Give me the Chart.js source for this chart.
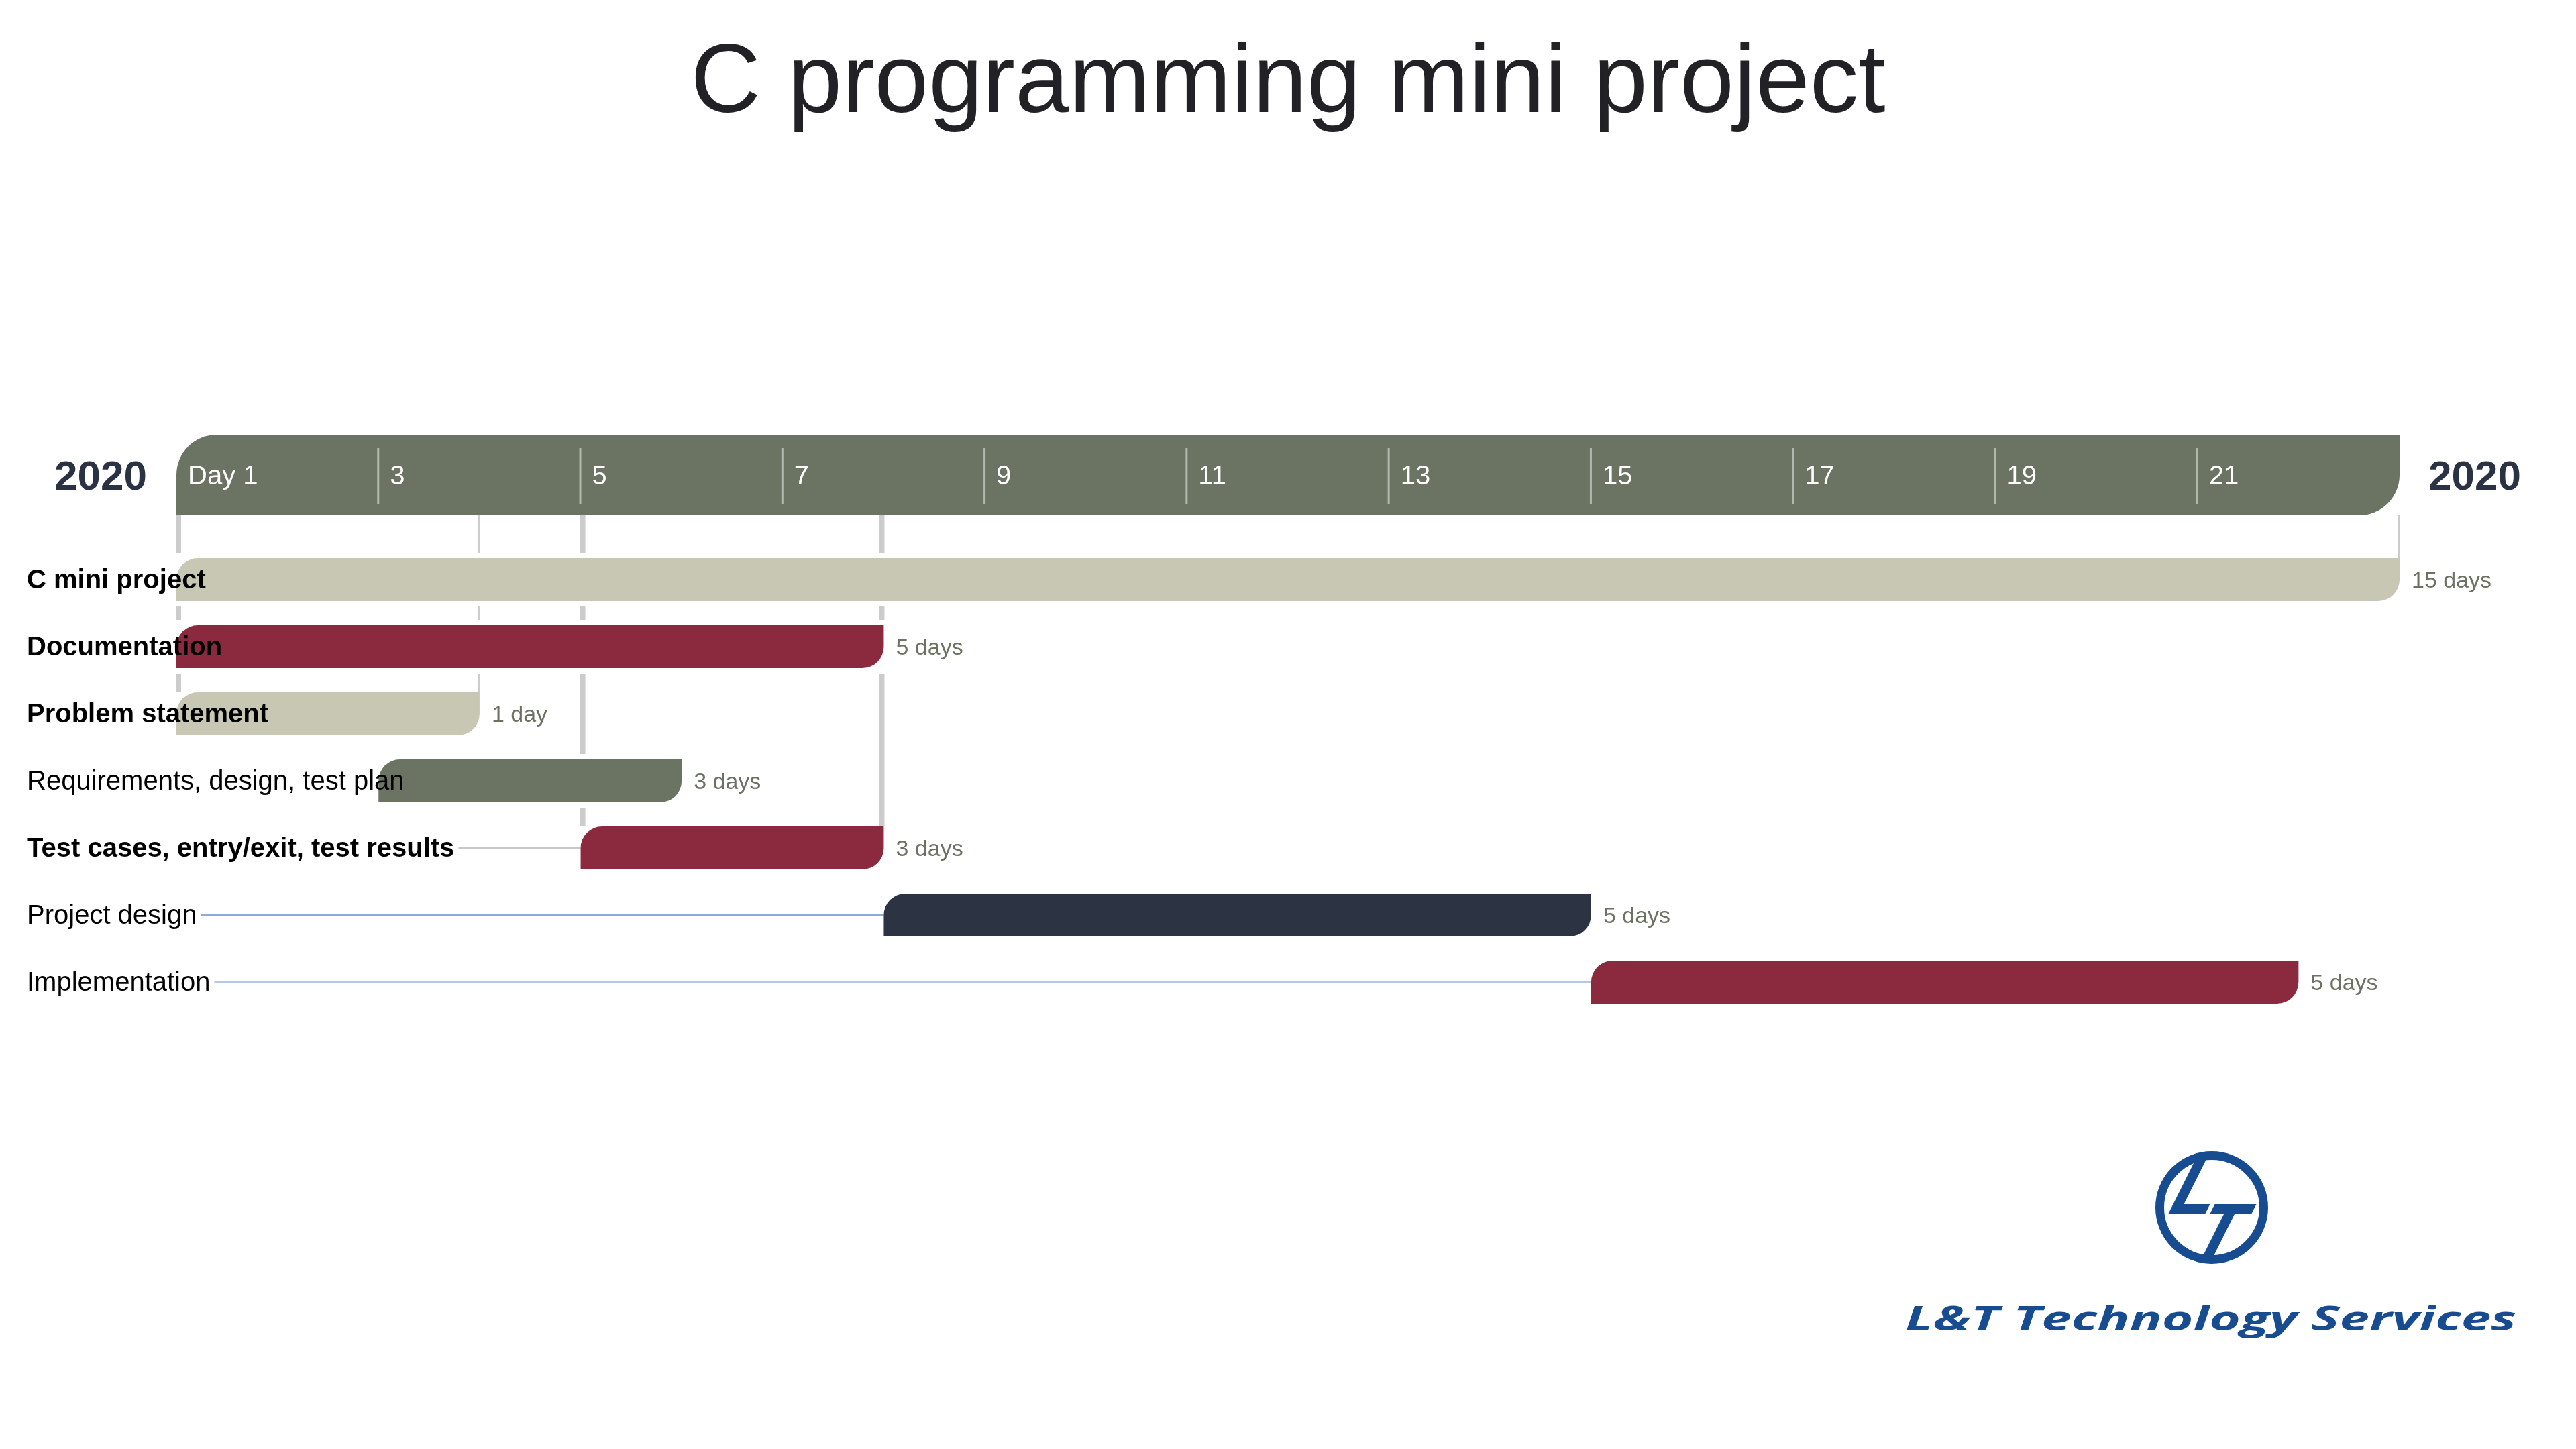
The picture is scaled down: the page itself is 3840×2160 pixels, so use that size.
<!DOCTYPE html>
<html>
<head>
<meta charset="utf-8">
<script src="https://cdn.jsdelivr.net/npm/chart.js@4/dist/chart.umd.min.js"></script>
<style>
  html, body { margin: 0; padding: 0; background: #ffffff; }
  #wrap { position: absolute; left: 0; top: 0; width: 3840px; height: 2160px; }
  canvas { display: block; }
</style>
</head>
<body>
<div id="wrap"><canvas id="chart" width="3840" height="2160"></canvas></div>
<script>
// ---------------- DATA ----------------
const chartTitle = 'C programming mini project';
const tasks = [
  'C mini project',
  'Documentation',
  'Problem statement',
  'Requirements, design, test plan',
  'Test cases, entry/exit, test results',
  'Project design',
  'Implementation'
];
const startDays = [1, 1, 1, 3, 5, 8, 15];
const endDays   = [23, 8, 4, 6, 8, 15, 22];
const durationLabels = ['15 days', '5 days', '1 day', '3 days', '3 days', '5 days', '5 days'];
const boldTasks = [true, true, true, false, true, false, false];
const barColors = ['#c8c7b3', '#8b2a3f', '#c8c7b3', '#6b7462', '#8b2a3f', '#2c3343', '#8b2a3f'];
const tickValues = [1, 3, 5, 7, 9, 11, 13, 15, 17, 19, 21];
const tickLabels = ['Day 1', '3', '5', '7', '9', '11', '13', '15', '17', '19', '21'];
const yearLabel = '2020';
const axisMin = 1;
const axisMax = 23;
// dependency / milestone guide lines
const linkDays    = [1, 4, 5, 8, 23];
const linkTargets = [2, 2, 4, 4, 0];
const linkAnchors = ['start', 'end', 'start', 'end', 'end'];
const linkWidths  = [8, 4, 8, 8, 3];
// horizontal leader lines from label to bar
const connectorRows   = [4, 5, 6];
const connectorColors = ['#c8c8c8', '#8eaadb', '#b4c7e7'];
const logoText = 'L&T Technology Services';

// ---------------- STYLE ----------------
const FONT = '"Liberation Sans", Arial, Helvetica, sans-serif';
const headerColor = '#6b7462';
const headerTickColor = '#b3b8ac';
const linkColor = '#cccccc';
const durationColor = '#6b7262';
const yearColor = '#2b3244';
const titleColor = '#222226';
const logoColor = '#184c91';

const ganttPlugin = {
  id: 'gantt',
  beforeDatasetsDraw(chart) {
    const ctx = chart.ctx;
    const xs = chart.scales.x, ys = chart.scales.y;
    const area = chart.chartArea;
    const bars = chart.getDatasetMeta(0).data;
    const barH = bars[0].height;
    const hx0 = xs.getPixelForValue(axisMin), hx1 = xs.getPixelForValue(axisMax);
    const hBottom = area.top - 46, hTop = hBottom - 120, r = 60;
    ctx.save();
    // header band
    ctx.fillStyle = headerColor;
    ctx.beginPath();
    ctx.moveTo(hx0 + r, hTop);
    ctx.lineTo(hx1, hTop);
    ctx.lineTo(hx1, hBottom - r);
    ctx.arcTo(hx1, hBottom, hx1 - r, hBottom, r);
    ctx.lineTo(hx0, hBottom);
    ctx.lineTo(hx0, hTop + r);
    ctx.arcTo(hx0, hTop, hx0 + r, hTop, r);
    ctx.closePath();
    ctx.fill();
    // header ticks + labels
    ctx.font = '40px ' + FONT;
    ctx.textAlign = 'left';
    ctx.textBaseline = 'alphabetic';
    tickValues.forEach((v, i) => {
      const px = xs.getPixelForValue(v);
      if (i > 0) {
        ctx.fillStyle = headerTickColor;
        ctx.fillRect(px - 2, hTop + 20, 3, 84);
      }
      ctx.fillStyle = '#ffffff';
      ctx.fillText(tickLabels[i], px + 17, hTop + 74);
    });
    // year labels
    ctx.font = 'bold 62px ' + FONT;
    ctx.fillStyle = yearColor;
    ctx.textAlign = 'right';
    ctx.fillText(yearLabel, hx0 - 44, hTop + 82);
    ctx.textAlign = 'left';
    ctx.fillText(yearLabel, hx1 + 43, hTop + 82);

    // vertical guide lines with gaps around crossed bars
    const gap = 8;
    ctx.fillStyle = linkColor;
    linkDays.forEach((d, i) => {
      const px = xs.getPixelForValue(d);
      const w = linkWidths[i];
      const x0 = linkAnchors[i] === 'start' ? px - 1 : px + 1 - w;
      const x1 = x0 + w;
      const t = linkTargets[i];
      const tgtTop = ys.getPixelForValue(t) - barH / 2;
      const cuts = [];
      for (let k = 0; k < t; k++) {
        const bs = xs.getPixelForValue(startDays[k]);
        const be = xs.getPixelForValue(endDays[k]);
        if (bs < x1 && be > x0) {
          const cy = ys.getPixelForValue(k);
          cuts.push([cy - barH / 2 - gap, cy + barH / 2 + gap]);
        }
      }
      let y = hBottom;
      cuts.forEach(c => {
        if (c[0] > y) ctx.fillRect(x0, y, w, c[0] - y);
        y = Math.max(y, c[1]);
      });
      if (tgtTop > y) ctx.fillRect(x0, y, w, tgtTop - y);
    });

    // horizontal leader lines
    connectorRows.forEach((row, i) => {
      ctx.font = (boldTasks[row] ? 'bold ' : '') + '40px ' + FONT;
      const lw = ctx.measureText(tasks[row]).width;
      const lx = 40 + lw + 6;
      const bx = xs.getPixelForValue(startDays[row]);
      const cy = ys.getPixelForValue(row);
      ctx.fillStyle = connectorColors[i];
      ctx.fillRect(lx, cy - 2, bx - lx, 4);
    });
    ctx.restore();
  },
  afterDatasetsDraw(chart) {
    const ctx = chart.ctx;
    const xs = chart.scales.x, ys = chart.scales.y;
    ctx.save();
    ctx.textAlign = 'left';
    ctx.textBaseline = 'alphabetic';
    tasks.forEach((t, i) => {
      const cy = ys.getPixelForValue(i);
      ctx.font = (boldTasks[i] ? 'bold ' : '') + '40px ' + FONT;
      ctx.fillStyle = '#000000';
      ctx.fillText(t, 40, cy + 13);
      ctx.font = '34px ' + FONT;
      ctx.fillStyle = durationColor;
      ctx.fillText(durationLabels[i], xs.getPixelForValue(endDays[i]) + 18, cy + 12);
    });
    ctx.restore();
  },
  afterDraw(chart) {
    const ctx = chart.ctx;
    ctx.save();
    // title
    ctx.font = '145px ' + FONT;
    ctx.fillStyle = titleColor;
    ctx.textAlign = 'center';
    ctx.textBaseline = 'alphabetic';
    ctx.fillText(chartTitle, chart.width / 2, 167);

    // logo emblem
    const cx = 3297, cy = 1800, rr = 77.5;
    ctx.strokeStyle = logoColor;
    ctx.lineWidth = 13;
    ctx.beginPath();
    ctx.arc(cx, cy, rr, 0, Math.PI * 2);
    ctx.stroke();
    ctx.save();
    ctx.beginPath();
    ctx.arc(cx, cy, rr, 0, Math.PI * 2);
    ctx.clip();
    ctx.fillStyle = logoColor;
    const k = 0.5;
    const poly = pts => {
      ctx.beginPath();
      pts.forEach((p, j) => {
        const X = cx + p[0] - k * p[1], Y = cy + p[1];
        if (j) ctx.lineTo(X, Y); else ctx.moveTo(X, Y);
      });
      ctx.closePath();
      ctx.fill();
    };
    poly([[-60, -95], [-44, -95], [-44, -5], [-5, -5], [-5, 10], [-60, 10]]);
    poly([[2, -5], [64, -5], [64, 10], [39, 10], [39, 95], [23, 95], [23, 10], [2, 10]]);
    ctx.restore();
    // logo text
    ctx.font = 'italic bold 51px "Open Sans", ' + FONT;
    ctx.fillStyle = logoColor;
    ctx.textAlign = 'left';
    const w = ctx.measureText(logoText).width;
    ctx.translate(2840, 1983);
    ctx.scale(911 / w, 1);
    ctx.fillText(logoText, 0, 0);
    ctx.restore();
  }
};

new Chart(document.getElementById('chart').getContext('2d'), {
  type: 'bar',
  data: {
    labels: tasks,
    datasets: [{
      data: tasks.map((_, i) => [startDays[i], endDays[i]]),
      backgroundColor: barColors,
      borderWidth: 0,
      borderSkipped: false,
      borderRadius: { topLeft: 32, topRight: 0, bottomRight: 32, bottomLeft: 0 },
      barPercentage: 0.64,
      categoryPercentage: 1,
      inflateAmount: 0
    }]
  },
  options: {
    indexAxis: 'y',
    responsive: false,
    animation: false,
    devicePixelRatio: 1,
    events: [],
    layout: { padding: { left: 263, right: 263, top: 814, bottom: 646 } },
    scales: {
      x: { type: 'linear', min: axisMin, max: axisMax, display: false },
      y: { display: false }
    },
    plugins: {
      legend: { display: false },
      tooltip: { enabled: false },
      title: { display: false }
    }
  },
  plugins: [ganttPlugin]
});
</script>
</body>
</html>
